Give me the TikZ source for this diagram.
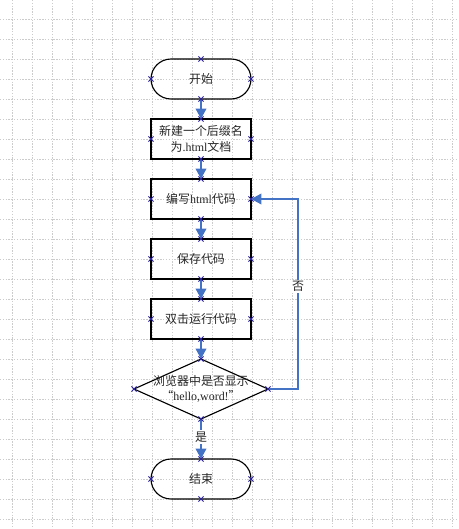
\documentclass[tikz,border=0pt]{standalone}
\usepackage{fontspec}
\setmainfont{Liberation Serif}
\newfontfamily\cjk{Noto Sans CJK SC}
\newfontfamily\latin{Liberation Serif}
\usetikzlibrary{arrows.meta, positioning, shapes.geometric}

\definecolor{flowblue}{RGB}{68,114,196}
\definecolor{ptblue}{RGB}{45,35,160}

\begin{document}
\begin{tikzpicture}[
    node distance=0.5cm,
    font=\cjk\fontsize{8.5}{11}\selectfont,
    box/.style={rectangle, draw, line width=0.8pt, outer sep=0pt, align=center, minimum width=2.5cm, minimum height=1cm, text=black!85},
    term/.style={rectangle, draw, line width=0.8pt, outer sep=0pt, rounded corners=0.5cm, minimum width=2.5cm, minimum height=1cm, text=black!85},
    decision/.style={diamond, draw, line width=0.8pt, outer sep=0pt, inner sep=0pt, minimum width=3.35cm, minimum height=1.5cm},
    flow/.style={-{Triangle[width=0.26cm, length=0.26cm]}, flowblue, line width=1.6pt},
    gridline/.style={gray!40, line width=0.4pt, dash pattern=on 1pt off 1pt},
    cross/.style={ptblue, line width=0.6pt}
]
\useasboundingbox (0,0) rectangle (11.45,-13.225);
% background grid
\foreach \x in {0.3,0.8,...,11.35}
  \draw[gridline] (\x,0) -- (\x,-13.225);
\foreach \y in {0.475,0.975,...,13.2}
  \draw[gridline] (0,-\y) -- (11.45,-\y);

\node[term] (start) at (5.025,-1.975) {开始};
\node[box, below=of start] (newdoc) {新建一个后缀名\\为{\latin .html}文档};
\node[box, below=of newdoc] (edit) {编写{\latin html}代码};
\node[box, below=of edit] (save) {保存代码};
\node[box, below=of save] (run) {双击运行代码};
\node[decision, below=of run] (check) {};
\node[align=center, text=black!85, inner sep=0pt] (checktext) at (check.center) {浏览器中是否显示\\“{\latin hello,word!}”};
\node[term, below=1cm of check] (end) {结束};

\draw[flow] (start) -- (newdoc);
\draw[flow] (newdoc) -- (edit);
\draw[flow] (edit) -- (save);
\draw[flow] (save) -- (run);
\draw[flow] (run) -- (check);
\draw[flow] (check) -- node[pos=0.45, fill=white, inner sep=1pt, text=black!85] {是} (end);
\draw[flow] (check.east) -- ++(0.75,0) |- node[pos=0.27, fill=white, inner sep=1pt, text=black!85] {否} (edit.east);

% connection points
\foreach \n in {start,newdoc,edit,save,run,check,end}
  \foreach \a in {north,south,east,west}
    \draw[cross] ([shift={(-0.065,-0.065)}]\n.\a) -- ([shift={(0.065,0.065)}]\n.\a)
                 ([shift={(-0.065,0.065)}]\n.\a) -- ([shift={(0.065,-0.065)}]\n.\a);
\end{tikzpicture}
\end{document}
